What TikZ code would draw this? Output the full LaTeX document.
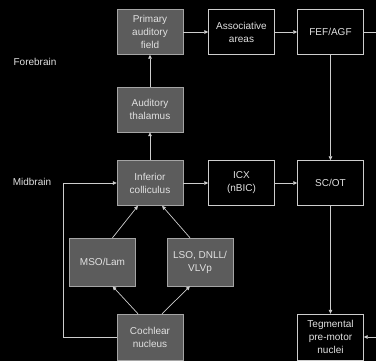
\documentclass[tikz,border=0pt]{standalone}
\usepackage{fontspec}
\setmainfont{Liberation Sans}
\usetikzlibrary{arrows.meta,positioning}
\definecolor{boxgray}{RGB}{92,92,92}
\definecolor{edgegray}{RGB}{165,165,165}
\definecolor{linegray}{RGB}{205,205,205}
\definecolor{txtgray}{RGB}{225,225,225}

\begin{document}
\begin{tikzpicture}[x=1pt, y=-1pt,
      box/.style={draw=edgegray, align=center, text=txtgray, font=\fontsize{10}{13}\selectfont,
        minimum width=66pt, minimum height=45pt, inner sep=1pt},
      relay/.style={box, fill=boxgray},
      motor/.style={box, draw=linegray, fill=black},
      arr/.style={-{Triangle[length=4pt,width=3.5pt]}, draw=linegray, line width=0.7pt},
      region/.style={text=txtgray, font=\fontsize{10}{13}\selectfont}]
    \fill[black] (0,0) rectangle (376,361);
    \useasboundingbox (0,0) rectangle (376,361);
    \node[region] (fore) at (35,62) {Forebrain};
    \node[region] (mid) at (32,182) {Midbrain};
    \node[relay] (paf) at (150,32) {Primary\\auditory\\field};
    \node[motor] (assoc) at (241.5,32) {Associative\\areas};
    \node[motor] (fef) at (330.5,32) {FEF/AGF};
    \node[relay] (thal) at (150,109.5) {Auditory\\thalamus};
    \node[relay] (ic) at (150,183) {Inferior\\colliculus};
    \node[motor] (icx) at (241.5,183) {ICX\\(nBIC)};
    \node[motor] (sc) at (330.5,183) {SC/OT};
    \node[relay, minimum height=48pt] (mso) at (102.5,262) {MSO/Lam};
    \node[relay, minimum height=48pt] (lso) at (200,262) {LSO, DNLL/\\VLVp};
    \node[relay, minimum height=46pt] (cn) at (150,337) {Cochlear\\nucleus};
    \node[motor, minimum height=46pt] (teg) at (330.5,337) {Tegmental\\pre-motor\\nuclei};
    \coordinate (lp) at (63,0);
    \coordinate (rim) at (382,0);
    \draw[arr] (ic) -- (thal);
    \draw[arr] (thal) -- (paf);
    \draw[arr] (paf) -- (assoc);
    \draw[arr] (assoc) -- (fef);
    \draw[arr] (fef) -- (sc);
    \draw[arr] (sc) -- (teg);
    \draw[arr] (ic) -- (icx);
    \draw[arr] (icx) -- (sc);
    \draw[arr] ([xshift=-12pt]cn.north) -- ([xshift=10pt]mso.south);
    \draw[arr] ([xshift=12pt]cn.north) -- ([xshift=-10pt]lso.south);
    \draw[arr] ([xshift=10pt]mso.north) -- ([xshift=-12pt]ic.south);
    \draw[arr] ([xshift=-10pt]lso.north) -- ([xshift=12pt]ic.south);
    \draw[arr] (cn.west) -- (cn.west -| lp) |- (ic.west);
    \draw[arr] (fef.east) -- (fef.east -| rim) |- (teg.east);
  \end{tikzpicture}
\end{document}
